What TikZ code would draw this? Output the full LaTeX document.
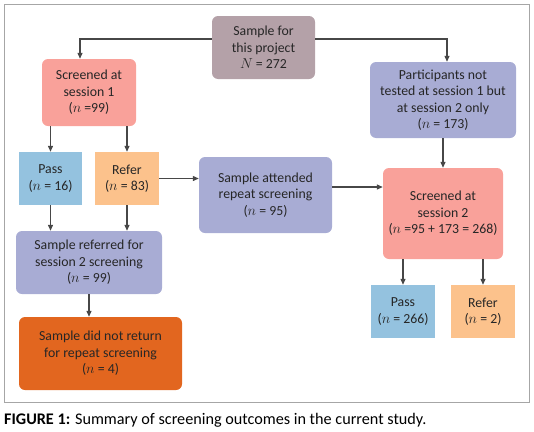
\documentclass[tikz,border=0pt]{standalone}
\usepackage{fontspec}
\setmainfont{Carlito}
\usetikzlibrary{arrows.meta}
\definecolor{cmauve}{HTML}{B4A1A8}
\definecolor{csalmon}{HTML}{F9A19A}
\definecolor{cblue}{HTML}{94C2DF}
\definecolor{corange}{HTML}{FCC28C}
\definecolor{clav}{HTML}{A8ACD4}
\definecolor{cdark}{HTML}{E2661F}
\definecolor{cline}{HTML}{474747}
\definecolor{cframe}{HTML}{A6A6A6}
\begin{document}
\begin{tikzpicture}[x=1pt,y=-1pt,
  boxtxt/.style={align=center,inner sep=0pt,text=black!85,font=\fontsize{13.8}{16.5}\selectfont},
  rbox/.style={boxtxt,rounded corners=6pt},
  sbox/.style={boxtxt},
  arr/.style={draw=cline,line width=1.2pt,-{Triangle[length=6pt,width=5pt]}}]
\useasboundingbox (0,0) rectangle (534,431);
\draw[cframe,line width=1pt] (4,4) rectangle (529.5,402);
\node[rbox,fill=cmauve,minimum width=103pt,minimum height=63pt] (top) at (263.5,47.5) {Sample for\\this project\\$N$ = 272};
\node[rbox,fill=csalmon,minimum width=94pt,minimum height=67pt] (s1) at (89,92.5) {Screened at\\session 1\\($n$ =99)};
\node[sbox,fill=cblue,minimum width=63pt,minimum height=53pt] (pass1) at (50.5,178.5) {Pass\\($n$ = 16)};
\node[sbox,fill=corange,minimum width=64pt,minimum height=53pt] (refer1) at (127,178.5) {Refer\\($n$ = 83)};
\node[rbox,fill=clav,minimum width=133pt,minimum height=76pt] (att) at (265.5,195) {Sample attended\\repeat screening\\($n$ = 95)};
\node[rbox,fill=clav,minimum width=146pt,minimum height=76pt] (part) at (443,100) {Participants not\\tested at session 1 but\\at session 2 only\\($n$ = 173)};
\node[rbox,fill=csalmon,minimum width=120pt,minimum height=91pt] (s2) at (443,213.5) {Screened at\\session 2\\($n$ =95 + 173 = 268)};
\node[sbox,fill=cblue,minimum width=64pt,minimum height=53pt] (pass2) at (403,311.5) {Pass\\($n$ = 266)};
\node[sbox,fill=corange,minimum width=64pt,minimum height=53pt] (refer2) at (483,311.5) {Refer\\($n$ = 2)};
\node[rbox,fill=clav,minimum width=146pt,minimum height=63pt] (ref) at (89,262.5) {Sample referred for\\session 2 screening\\($n$ = 99)};
\node[rbox,fill=cdark,minimum width=163pt,minimum height=73pt] (dnr) at (100.5,353.5) {Sample did not return\\for repeat screening\\($n$ = 4)};
\node[anchor=west,inner sep=0pt,font=\fontsize{16.2}{18}\selectfont] (cap) at (4,420) {\textbf{FIGURE 1:} Summary of screening outcomes in the current study.};
\draw[arr] ([yshift=8.5pt]top.west) -| ([xshift=-9pt]s1.north);
\draw[arr] ([yshift=8.5pt]top.east) -| ([xshift=4pt]part.north);
\draw[arr] (s1.south -| pass1.north) -- (pass1.north);
\draw[arr] (s1.south -| refer1.north) -- (refer1.north);
\draw[arr] (refer1.east) -- (refer1.east -| att.west);
\draw[arr] ([yshift=8pt]att.east) -- ([yshift=8pt]att.east -| s2.west);
\draw[arr] (part.south) -- (s2.north);
\draw[arr] (pass1.south) -- (pass1.south |- ref.north);
\draw[arr] (refer1.south) -- (refer1.south |- ref.north);
\draw[arr] (ref.south) -- (ref.south |- dnr.north);
\draw[arr] (s2.south -| pass2.north) -- (pass2.north);
\draw[arr] (s2.south -| refer2.north) -- (refer2.north);
\end{tikzpicture}
\end{document}
